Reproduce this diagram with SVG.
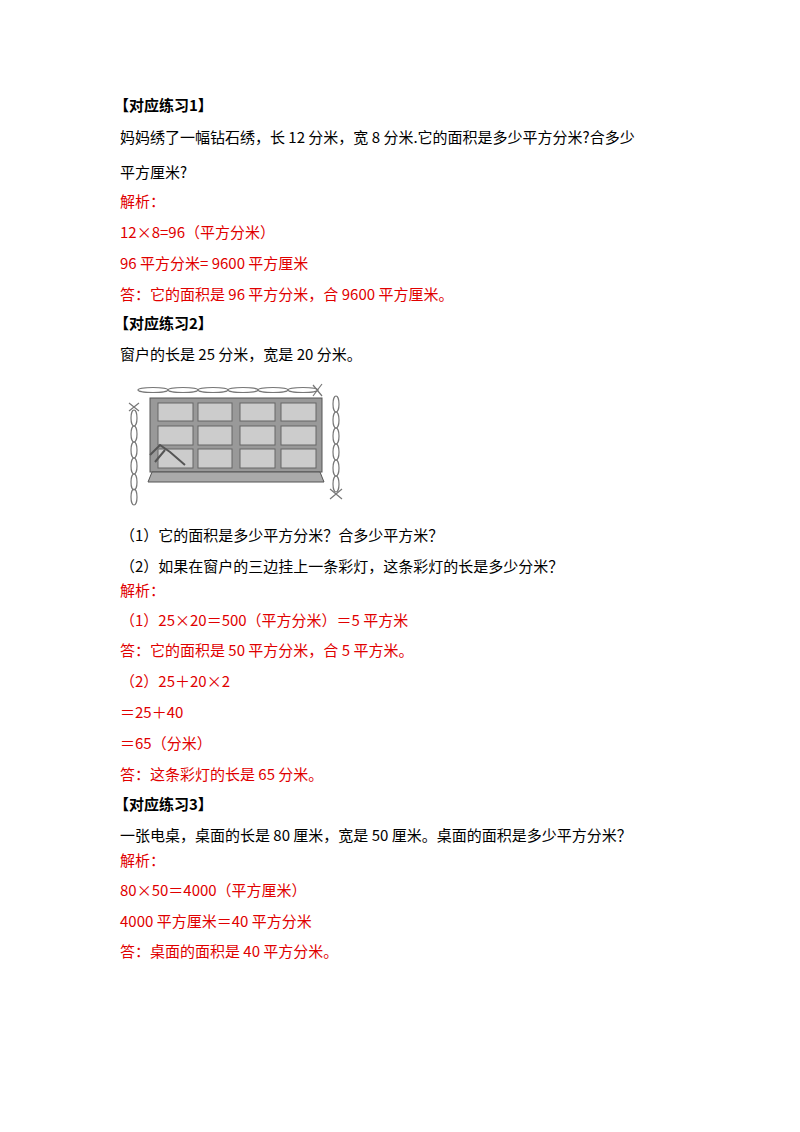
<svg xmlns="http://www.w3.org/2000/svg" width="800" height="1132" viewBox="0 0 800 1132">
<style>
text{font-family:"Noto Sans CJK SC","Noto Sans",sans-serif;font-size:15px;fill:#000}
.h{font-weight:bold}
.r{fill:#e00000}
.g{fill:#ccc;stroke:#666;stroke-width:1}
.c{fill:none;stroke:#777;stroke-width:1.2}
</style>
<rect width="800" height="1132" fill="#fff"/>
<g id="text">
<text class="h" x="114" y="111">【对应练习1】</text>
<text x="120" y="143">妈妈绣了一幅钻石绣，长 12 分米，宽 8 分米.它的面积是多少平方分米?合多少</text>
<text x="120" y="178">平方厘米?</text>
<text class="r" x="120" y="207">解析：</text>
<text class="r" x="120" y="238">12×8=96（平方分米）</text>
<text class="r" x="120" y="269">96 平方分米= 9600 平方厘米</text>
<text class="r" x="120" y="300">答：它的面积是 96 平方分米，合 9600 平方厘米。</text>
<text class="h" x="114" y="329">【对应练习2】</text>
<text x="120" y="360">窗户的长是 25 分米，宽是 20 分米。</text>
<text x="120" y="541">（1）它的面积是多少平方分米？合多少平方米？</text>
<text x="120" y="572">（2）如果在窗户的三边挂上一条彩灯，这条彩灯的长是多少分米？</text>
<text class="r" x="120" y="596">解析：</text>
<text class="r" x="120" y="626">（1）25×20＝500（平方分米）＝5 平方米</text>
<text class="r" x="120" y="656">答：它的面积是 50 平方分米，合 5 平方米。</text>
<text class="r" x="120" y="687">（2）25＋20×2</text>
<text class="r" x="120" y="718">＝25＋40</text>
<text class="r" x="120" y="749">＝65（分米）</text>
<text class="r" x="120" y="780">答：这条彩灯的长是 65 分米。</text>
<text class="h" x="114" y="810">【对应练习3】</text>
<text x="120" y="841">一张电桌，桌面的长是 80 厘米，宽是 50 厘米。桌面的面积是多少平方分米？</text>
<text class="r" x="120" y="866">解析：</text>
<text class="r" x="120" y="896">80×50＝4000（平方厘米）</text>
<text class="r" x="120" y="927">4000 平方厘米＝40 平方分米</text>
<text class="r" x="120" y="957">答：桌面的面积是 40 平方分米。</text>
</g>
<g id="window">
<rect x="150" y="398" width="172" height="74" fill="#999" stroke="#555"/>
<polygon points="148,482 324,482 320,472 152,472" fill="#aaa" stroke="#555"/>
<g class="g">
<rect x="158" y="403" width="35" height="18"/><rect x="198" y="403" width="34" height="18"/><rect x="240" y="403" width="35" height="18"/><rect x="281" y="403" width="35" height="18"/>
<rect x="158" y="426" width="35" height="19"/><rect x="198" y="426" width="34" height="19"/><rect x="240" y="426" width="35" height="19"/><rect x="281" y="426" width="35" height="19"/>
<rect x="158" y="449" width="35" height="19"/><rect x="198" y="449" width="34" height="19"/><rect x="240" y="449" width="35" height="19"/><rect x="281" y="449" width="35" height="19"/>
</g>
<path d="M150,455 L160,445 L170,452 L185,465 M155,462 L165,450" stroke="#555" fill="none" stroke-width="2"/>
</g>
<g id="lights">
<g class="c">
<ellipse cx="153" cy="390" rx="15" ry="2.5"/><ellipse cx="183" cy="390" rx="15" ry="2.5"/><ellipse cx="213" cy="390" rx="15" ry="2.5"/><ellipse cx="243" cy="390" rx="15" ry="2.5"/><ellipse cx="273" cy="390" rx="15" ry="2.5"/><ellipse cx="303" cy="390" rx="15" ry="2.5"/>
<path d="M313,385 L322,396 M322,384 L313,396"/>
<ellipse cx="134" cy="418" rx="3" ry="8"/><ellipse cx="134" cy="434" rx="3" ry="8"/><ellipse cx="134" cy="450" rx="3" ry="8"/><ellipse cx="134" cy="466" rx="3" ry="8"/><ellipse cx="134" cy="482" rx="3" ry="8"/><ellipse cx="134" cy="497" rx="3" ry="8"/>
<path d="M129,403 L139,411 M139,403 L129,411"/>
<ellipse cx="336" cy="404" rx="3" ry="8"/><ellipse cx="336" cy="420" rx="3" ry="8"/><ellipse cx="336" cy="436" rx="3" ry="8"/><ellipse cx="336" cy="452" rx="3" ry="8"/><ellipse cx="336" cy="468" rx="3" ry="8"/><ellipse cx="336" cy="484" rx="3" ry="8"/>
<path d="M330,489 L342,499 M342,489 L330,499"/>
</g>
</g>
</svg>
